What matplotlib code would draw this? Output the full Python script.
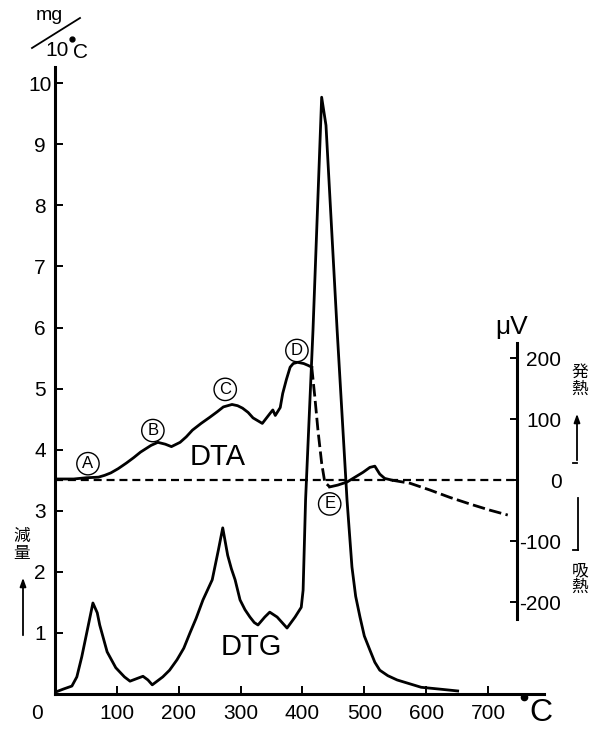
import numpy as np
import matplotlib.pyplot as plt

# DTG  (mg / 10 C)
dtg_t = [0, 13, 27, 35, 43, 51, 61, 68, 72, 84, 98, 112, 121, 134, 142, 150,
         157, 174, 185, 197, 208, 218, 228, 239, 254, 264, 271, 279, 285, 291,
         299, 307, 315, 322, 328, 339, 347, 359, 375, 388, 398, 401, 405, 417,
         431, 438, 456, 472, 480, 486, 493, 500, 509, 517, 525, 538, 553, 592,
         622, 651]
dtg_v = [0.03, 0.08, 0.13, 0.28, 0.61, 1.00, 1.49, 1.33, 1.13, 0.69, 0.43, 0.28,
         0.21, 0.26, 0.29, 0.23, 0.15, 0.28, 0.39, 0.56, 0.75, 1.00, 1.24, 1.54,
         1.87, 2.36, 2.72, 2.27, 2.05, 1.87, 1.54, 1.38, 1.26, 1.17, 1.13, 1.26,
         1.34, 1.26, 1.08, 1.26, 1.42, 1.70, 3.18, 5.96, 9.77, 9.31, 5.96, 3.18,
         2.08, 1.60, 1.26, 0.95, 0.72, 0.52, 0.39, 0.30, 0.23, 0.11, 0.08, 0.05]

# DTA  (uV)
dta_t = [0, 30, 50, 70, 80, 90, 102, 115, 127, 138, 155, 166, 178, 188, 202,
         212, 222, 236, 250, 262, 272, 286, 295, 303, 312, 320, 335, 348, 352,
         356, 364, 368, 374, 380, 385, 392, 402, 409, 415, 420, 425, 431, 436,
         444, 457, 472, 485, 498, 509, 517, 525, 533, 545, 574, 606, 638, 671,
         703, 732]
dta_uv = [2, 2, 4, 5, 8, 12, 19, 28, 37, 46, 57, 62, 59, 55, 62, 71, 82, 93,
          103, 112, 120, 124, 122, 118, 111, 102, 93, 110, 115, 106, 119, 142,
          165, 185, 191, 193, 191, 188, 185, 136, 82, 28, -3, -11, -8, -3, 5, 13,
          21, 23, 10, 3, 0, -5, -16, -28, -39, -49, -57]
# line style of each DTA stretch: (from, to, dashed)
dta_parts = [(0, 415, False), (415, 444, True), (444, 545, False), (545, 732, True)]

# circled marks on DTA: letter, temperature, offset in pixels
marks = [('A', 53, 14), ('B', 158, 14), ('C', 275, 17), ('D', 391, 12), ('E', 444, -17)]

zero_uv = 3.5          # where 0 uV sits on the mg axis
uv_axis_t = 747        # temperature of the uV axis
xmax, ymax = 790, 10.26

plt.rcParams['font.family'] = ['Liberation Sans', 'DejaVu Sans']
jp = ['Noto Sans CJK JP', 'DejaVu Sans']

fig = plt.figure(figsize=(6, 7.33), dpi=100)
ax = fig.add_axes([0.092, 0.0532, 0.814, 0.855])
ax.set_xlim(0, xmax)
ax.set_ylim(0, ymax)
for s in ['top', 'right']:
    ax.spines[s].set_visible(False)
for s in ['left', 'bottom']:
    ax.spines[s].set_linewidth(2.2)

ax.set_xticks(range(100, 800, 100))
ax.set_yticks(range(1, 11))
ax.tick_params(axis='both', direction='in', length=6, width=1.4, labelsize=15)
ax.tick_params(axis='x', pad=7)
ax.tick_params(axis='y', pad=11)
for lab in ax.get_yticklabels():
    lab.set_horizontalalignment('center')
ax.annotate('0', (0, 0), xytext=(-18, -19), textcoords='offset pixels',
            ha='center', va='center', fontsize=15, annotation_clip=False)

ax.plot(dtg_t, dtg_v, color='black', lw=2.0)

# right axis for DTA
ax2 = ax.twinx()
ax2.set_ylim(-zero_uv * 100, (ymax - zero_uv) * 100)
for s in ['top', 'left', 'bottom']:
    ax2.spines[s].set_visible(False)
ax2.spines['right'].set_position(('data', uv_axis_t))
ax2.spines['right'].set_linewidth(2.2)
ax2.spines['right'].set_bounds(-228, 225)
ax2.set_yticks([200, 100, 0, -100, -200], labels=['200', '100', '0', '-100', '-200'])
ax2.tick_params(axis='y', direction='in', length=5, width=1.4, labelsize=15, pad=32)
for lab in ax2.get_yticklabels():
    lab.set_horizontalalignment('right')

ax2.hlines(0, 0, uv_axis_t, color='black', lw=1.6, linestyles=(0, (3.6, 2.2)))

t = np.array(dta_t)
uv = np.array(dta_uv)
for t0, t1, dashed in dta_parts:
    m = (t >= t0) & (t <= t1)
    ls = (0, (4.5, 1.6)) if dashed else '-'
    ax2.plot(t[m], uv[m], color='black', lw=2.0, linestyle=ls)

for letter, tm, dy in marks:
    ax2.annotate(letter, (tm, np.interp(tm, t, uv)), xytext=(0, dy),
                 textcoords='offset pixels', ha='center', va='center', fontsize=12,
                 bbox=dict(boxstyle='circle,pad=0.22', fc='white', ec='black', lw=1.0))

ax.text(263, 3.88, 'DTA', fontsize=21, ha='center', va='center')
ax.text(317, 0.77, 'DTG', fontsize=21, ha='center', va='center')


def fx(px):
    return px / 600


def fy(py):
    return 1 - py / 733


def fline(xs, ys, lw=1.3):
    fig.add_artist(plt.Line2D([fx(v) for v in xs], [fy(v) for v in ys],
                              color='black', lw=lw))


def fdot(px, py, size=3.5):
    fig.add_artist(plt.Line2D([fx(px)], [fy(py)], marker='o', ms=size,
                              color='black', lw=0))


# unit labels
fig.text(fx(49), fy(16), 'mg', fontsize=14, ha='center', va='center')
fline([32, 80], [48, 18])
fig.text(fx(57), fy(50), '10', fontsize=15, ha='center', va='center')
fdot(72, 39)
fig.text(fx(80), fy(52), 'C', fontsize=15, ha='center', va='center')

fdot(524, 697, 4.5)
fig.text(fx(541), fy(713), 'C', fontsize=23, ha='center', va='center')

fig.text(fx(512), fy(327), 'μV', fontsize=19, ha='center', va='center')

# exo / endo
fig.text(fx(580), fy(381), '発\n熱', family=jp, fontsize=12,
         ha='center', va='center', linespacing=1.0)
fig.text(fx(580), fy(579), '吸\n熱', family=jp, fontsize=12,
         ha='center', va='center', linespacing=1.0)
fline([573, 577], [463, 463])
ax.annotate('', xy=(577, 733 - 411), xytext=(577, 733 - 463), xycoords='figure pixels',
            arrowprops=dict(arrowstyle='-|>,head_width=0.18,head_length=0.5',
                            color='black', lw=1.3))
fline([578, 578], [498, 550])
fline([573, 578], [550, 550])

# weight loss
fig.text(fx(22), fy(545), '減\n量', family=jp, fontsize=12,
         ha='center', va='center', linespacing=1.0)
ax.annotate('', xy=(23, 733 - 575), xytext=(23, 733 - 638), xycoords='figure pixels',
            arrowprops=dict(arrowstyle='-|>,head_width=0.18,head_length=0.5',
                            color='black', lw=1.3))

fig.savefig('out.png', dpi=100)
